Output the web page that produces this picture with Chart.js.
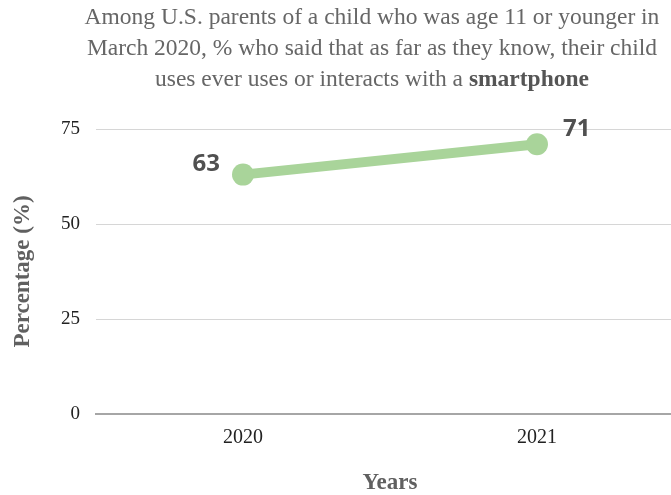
<!DOCTYPE html>
<html>
<head>
<meta charset="utf-8">
<script src="https://cdn.jsdelivr.net/npm/chart.js@4/dist/chart.umd.min.js"></script>
<style>
  html, body { margin: 0; padding: 0; background: #fff; }
  #wrap { position: relative; width: 671px; height: 495px; overflow: hidden; }
  #c { position: absolute; left: 0; top: 0; }
  #title {
    position: absolute; left: 0; top: 1px; width: 744px; text-align: center;
    font-family: "Liberation Serif", "Times New Roman", serif; font-size: 23.5px;
    line-height: 31px; color: #666; z-index: 2;
  }
  #title b { color: #555; }
</style>
</head>
<body>
<div id="wrap">
  <div id="title">Among U.S. parents of a child who was age 11 or younger in<br>March 2020, % who said that as far as they know, their child<br>uses ever uses or interacts with a <b>smartphone</b></div>
  <canvas id="c" width="684" height="495"></canvas>
</div>
<script>
const categories = ['2020', '2021'];
const smartphoneUse = [63, 71];
const yTickValues = [0, 25, 50, 75];
const yAxisTitle = 'Percentage (%)';
const xAxisTitle = 'Years';

const pointLabels = {
  id: 'pointLabels',
  afterDatasetsDraw(chart) {
    const ctx = chart.ctx;
    const meta = chart.getDatasetMeta(0);
    const vals = chart.data.datasets[0].data;
    ctx.save();
    ctx.font = 'bold 24px "Open Sans", sans-serif';
    ctx.fillStyle = '#505050';
    ctx.textBaseline = 'middle';
    meta.data.forEach((pt, i) => {
      if (i === 0) {
        ctx.textAlign = 'right';
        ctx.fillText(String(vals[i]), pt.x - 23, pt.y - 10);
      } else {
        ctx.textAlign = 'left';
        ctx.fillText(String(vals[i]), pt.x + 26, pt.y - 15);
      }
    });
    ctx.restore();
  }
};

new Chart(document.getElementById('c'), {
  type: 'line',
  data: {
    labels: categories,
    datasets: [{
      data: smartphoneUse,
      borderColor: '#a9d49a',
      backgroundColor: '#a9d49a',
      borderWidth: 10,
      pointRadius: 11,
      pointHoverRadius: 11,
      pointBorderWidth: 0,
      fill: false,
      tension: 0
    }]
  },
  options: {
    responsive: false,
    animation: false,
    layout: { autoPadding: false, padding: { top: 129, left: 0, right: 0, bottom: 0 } },
    plugins: {
      legend: { display: false },
      tooltip: { enabled: false },
      title: { display: false }
    },
    scales: {
      x: {
        offset: true,
        grid: { display: false, drawTicks: false },
        border: { display: true, color: '#a6a6a6', width: 2 },
        ticks: {
          padding: 12,
          color: '#222',
          font: { family: '"Liberation Serif", serif', size: 20 }
        },
        title: {
          display: true,
          text: xAxisTitle,
          color: '#606060',
          font: { family: '"Liberation Serif", serif', size: 23, weight: 'bold', lineHeight: 1.0 },
          padding: { top: 10, bottom: 0 }
        }
      },
      y: {
        min: 0,
        max: 75,
        afterBuildTicks(scale) { scale.ticks = yTickValues.map(v => ({ value: v })); },
        afterFit(scale) { scale.width = 96; },
        grid: { color: '#d6d6d6', lineWidth: 1, drawTicks: false },
        border: { display: false },
        ticks: {
          padding: 16,
          color: '#222',
          font: { family: '"Liberation Serif", serif', size: 19 }
        },
        title: {
          display: true,
          text: yAxisTitle,
          color: '#606060',
          font: { family: '"Liberation Serif", serif', size: 23, weight: 'bold' },
          padding: { top: 9, bottom: 0 }
        }
      }
    }
  },
  plugins: [pointLabels]
});
</script>
</body>
</html>
